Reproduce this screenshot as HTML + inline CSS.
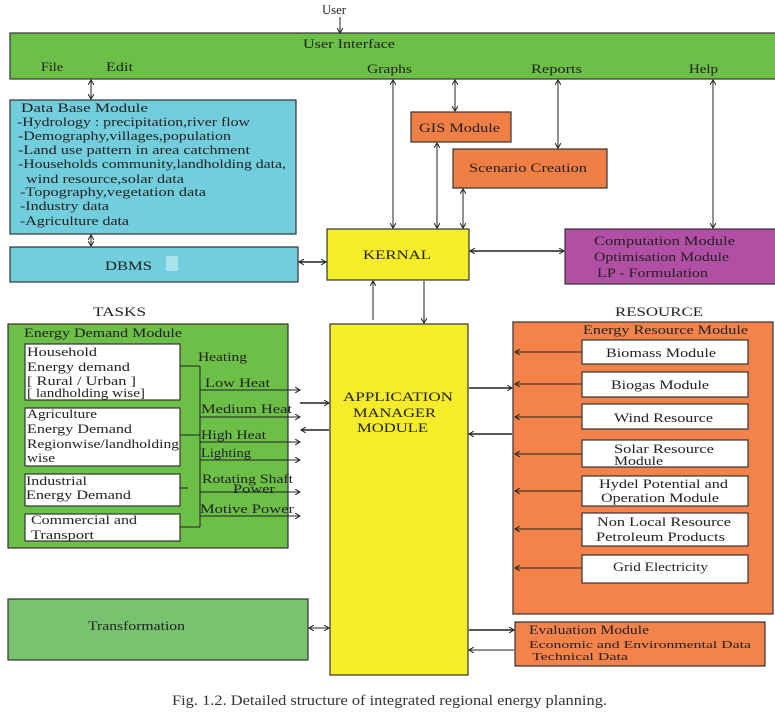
<!DOCTYPE html>
<html><head><meta charset="utf-8"><style>
html,body{margin:0;padding:0;background:#fff;}
svg{display:block;}
text{font-family:"Liberation Serif",serif;fill:#222;}
</style></head><body>
<svg width="775" height="720" viewBox="0 0 775 720" xmlns="http://www.w3.org/2000/svg">
<defs>
<marker id="a" markerWidth="6" markerHeight="6" refX="5" refY="3" orient="auto-start-reverse" markerUnits="userSpaceOnUse"><path d="M0,0 L5,3 L0,6" fill="none" stroke="#222" stroke-width="1"/></marker>
</defs>
<g stroke="#333" stroke-width="1.2">
<rect x="10" y="33" width="775" height="46" fill="#6cbf47"/>
<rect x="10" y="100" width="286" height="134" fill="#72cddd"/>
<rect x="10" y="247" width="288" height="35" fill="#72cddd"/>
<rect x="411" y="112" width="100" height="30" fill="#f07f45"/>
<rect x="453" y="149" width="154" height="39" fill="#f07f45"/>
<rect x="327" y="229" width="142" height="51" fill="#f5ec2a"/>
<rect x="565" y="229" width="215" height="55" fill="#b04fa3"/>
<rect x="8" y="324" width="280" height="224" fill="#6cbf47"/>
<rect x="25" y="344" width="155" height="56" fill="#fff"/>
<rect x="25" y="408" width="155" height="58" fill="#fff"/>
<rect x="25" y="474" width="155" height="32" fill="#fff"/>
<rect x="25" y="514" width="155" height="27" fill="#fff"/>
<rect x="330" y="324" width="138" height="351" fill="#f5ec2a"/>
<rect x="513" y="322" width="260" height="292" fill="#f4834b"/>
<rect x="582" y="340" width="166" height="24" fill="#fff"/>
<rect x="582" y="372" width="166" height="25" fill="#fff"/>
<rect x="582" y="404" width="166" height="25" fill="#fff"/>
<rect x="582" y="440" width="166" height="27" fill="#fff"/>
<rect x="582" y="476" width="166" height="30" fill="#fff"/>
<rect x="582" y="513" width="166" height="33" fill="#fff"/>
<rect x="582" y="555" width="166" height="28" fill="#fff"/>
<rect x="8" y="599" width="300" height="61" fill="#77c36f"/>
<rect x="515" y="622" width="250" height="44" fill="#f4834b"/>
</g>
<rect x="166" y="256" width="12" height="15" fill="#a8e2ec"/>
<g stroke="#222" stroke-width="1" fill="none">
<line x1="340" y1="17" x2="340" y2="33" marker-end="url(#a)"/>
<line x1="91" y1="80" x2="91" y2="99" marker-start="url(#a)" marker-end="url(#a)"/>
<line x1="91" y1="235" x2="91" y2="246" marker-start="url(#a)" marker-end="url(#a)"/>
<line x1="393" y1="80" x2="393" y2="228" marker-start="url(#a)" marker-end="url(#a)"/>
<line x1="455" y1="80" x2="455" y2="111" marker-start="url(#a)" marker-end="url(#a)"/>
<line x1="558" y1="80" x2="558" y2="148" marker-start="url(#a)" marker-end="url(#a)"/>
<line x1="713" y1="80" x2="713" y2="228" marker-start="url(#a)" marker-end="url(#a)"/>
<line x1="437" y1="143" x2="437" y2="228" marker-start="url(#a)" marker-end="url(#a)"/>
<line x1="463" y1="189" x2="463" y2="228" marker-start="url(#a)" marker-end="url(#a)"/>
<line x1="299" y1="262" x2="326" y2="262" marker-start="url(#a)" marker-end="url(#a)" stroke-width="1.5"/>
<line x1="470" y1="251" x2="564" y2="251" marker-start="url(#a)" marker-end="url(#a)" stroke-width="1.5"/>
<line x1="373" y1="320" x2="373" y2="281" marker-end="url(#a)"/>
<line x1="424" y1="281" x2="424" y2="323" marker-end="url(#a)"/>
<path d="M180,366 H200 M180,435 H200 M180,488 H188 M180,527 H200 M200,366 V527"/>
<line x1="200" y1="390" x2="300" y2="390" marker-end="url(#a)"/>
<line x1="200" y1="417" x2="300" y2="417" marker-end="url(#a)"/>
<line x1="200" y1="442" x2="300" y2="442" marker-end="url(#a)"/>
<line x1="200" y1="460" x2="300" y2="460" marker-end="url(#a)"/>
<line x1="200" y1="492" x2="300" y2="492" marker-end="url(#a)"/>
<line x1="200" y1="516" x2="300" y2="516" marker-end="url(#a)"/>
<line x1="300" y1="403" x2="329" y2="403" marker-end="url(#a)" stroke-width="1.5"/>
<line x1="329" y1="430" x2="301" y2="430" marker-end="url(#a)" stroke-width="1.5"/>
<line x1="469" y1="388" x2="512" y2="388" marker-end="url(#a)" stroke-width="1.5"/>
<line x1="512" y1="434" x2="469" y2="434" marker-end="url(#a)" stroke-width="1.5"/>
<line x1="582" y1="352" x2="515" y2="352" marker-end="url(#a)"/>
<line x1="582" y1="384" x2="515" y2="384" marker-end="url(#a)"/>
<line x1="582" y1="417" x2="515" y2="417" marker-end="url(#a)"/>
<line x1="582" y1="454" x2="515" y2="454" marker-end="url(#a)"/>
<line x1="582" y1="491" x2="515" y2="491" marker-end="url(#a)"/>
<line x1="582" y1="529" x2="515" y2="529" marker-end="url(#a)"/>
<line x1="582" y1="568" x2="515" y2="568" marker-end="url(#a)"/>
<line x1="309" y1="628" x2="329" y2="628" marker-start="url(#a)" marker-end="url(#a)"/>
<line x1="469" y1="630" x2="514" y2="630" marker-end="url(#a)" stroke-width="1.5"/>
<line x1="514" y1="650" x2="469" y2="650" marker-end="url(#a)"/>
</g>
<g font-size="12.5">
<text x="322" y="14" textLength="24" lengthAdjust="spacingAndGlyphs">User</text>
<text x="303" y="48" textLength="92" lengthAdjust="spacingAndGlyphs">User Interface</text>
<text x="41" y="71" textLength="22" lengthAdjust="spacingAndGlyphs">File</text>
<text x="106" y="71" textLength="27" lengthAdjust="spacingAndGlyphs">Edit</text>
<text x="367" y="73" textLength="45" lengthAdjust="spacingAndGlyphs">Graphs</text>
<text x="531" y="73" textLength="51" lengthAdjust="spacingAndGlyphs">Reports</text>
<text x="689" y="73" textLength="29" lengthAdjust="spacingAndGlyphs">Help</text>
<text x="21" y="112" textLength="127" lengthAdjust="spacingAndGlyphs">Data  Base Module</text>
<text x="17" y="126" textLength="233" lengthAdjust="spacingAndGlyphs">-Hydrology : precipitation,river flow</text>
<text x="18" y="140" textLength="213" lengthAdjust="spacingAndGlyphs">-Demography,villages,population</text>
<text x="18" y="154" textLength="232" lengthAdjust="spacingAndGlyphs">-Land use pattern in area catchment</text>
<text x="18" y="168" textLength="268" lengthAdjust="spacingAndGlyphs">-Households community,landholding data,</text>
<text x="26" y="183" textLength="158" lengthAdjust="spacingAndGlyphs">wind resource,solar data</text>
<text x="20" y="196" textLength="186" lengthAdjust="spacingAndGlyphs">-Topography,vegetation data</text>
<text x="20" y="210" textLength="89" lengthAdjust="spacingAndGlyphs">-Industry data</text>
<text x="20" y="225" textLength="109" lengthAdjust="spacingAndGlyphs">-Agriculture data</text>
<text x="105" y="270" textLength="47" lengthAdjust="spacingAndGlyphs">DBMS</text>
<text x="419" y="132" textLength="81" lengthAdjust="spacingAndGlyphs">GIS Module</text>
<text x="469" y="172" textLength="118" lengthAdjust="spacingAndGlyphs">Scenario Creation</text>
<text x="363" y="259" textLength="68" lengthAdjust="spacingAndGlyphs">KERNAL</text>
<text x="594" y="245" textLength="141" lengthAdjust="spacingAndGlyphs">Computation  Module</text>
<text x="594" y="261" textLength="135" lengthAdjust="spacingAndGlyphs">Optimisation Module</text>
<text x="597" y="277" textLength="111" lengthAdjust="spacingAndGlyphs">LP - Formulation</text>
<text x="93" y="316" textLength="53" lengthAdjust="spacingAndGlyphs">TASKS</text>
<text x="615" y="316" textLength="88" lengthAdjust="spacingAndGlyphs">RESOURCE</text>
<text x="24" y="337" textLength="158" lengthAdjust="spacingAndGlyphs">Energy Demand Module</text>
<text x="27" y="356" textLength="70" lengthAdjust="spacingAndGlyphs">Household</text>
<text x="27" y="371" textLength="103" lengthAdjust="spacingAndGlyphs">Energy demand</text>
<text x="27" y="385" textLength="109" lengthAdjust="spacingAndGlyphs">[ Rural / Urban ]</text>
<text x="27" y="397" textLength="118" lengthAdjust="spacingAndGlyphs">[ landholding wise]</text>
<text x="27" y="418" textLength="70" lengthAdjust="spacingAndGlyphs">Agriculture</text>
<text x="27" y="433" textLength="105" lengthAdjust="spacingAndGlyphs">Energy Demand</text>
<text x="27" y="448" textLength="152" lengthAdjust="spacingAndGlyphs">Regionwise/landholding</text>
<text x="27" y="462" textLength="28" lengthAdjust="spacingAndGlyphs">wise</text>
<text x="26" y="485" textLength="61" lengthAdjust="spacingAndGlyphs">Industrial</text>
<text x="26" y="499" textLength="105" lengthAdjust="spacingAndGlyphs">Energy Demand</text>
<text x="31" y="524" textLength="106" lengthAdjust="spacingAndGlyphs">Commercial and</text>
<text x="31" y="539" textLength="63" lengthAdjust="spacingAndGlyphs">Transport</text>
<text x="198" y="361" textLength="49" lengthAdjust="spacingAndGlyphs">Heating</text>
<text x="205" y="387" textLength="65" lengthAdjust="spacingAndGlyphs">Low Heat</text>
<text x="201" y="413" textLength="91" lengthAdjust="spacingAndGlyphs">Medium Heat</text>
<text x="201" y="439" textLength="65" lengthAdjust="spacingAndGlyphs">High Heat</text>
<text x="201" y="457" textLength="50" lengthAdjust="spacingAndGlyphs">Lighting</text>
<text x="202" y="483" textLength="91" lengthAdjust="spacingAndGlyphs">Rotating Shaft</text>
<text x="233" y="493" textLength="42" lengthAdjust="spacingAndGlyphs">Power</text>
<text x="200" y="513" textLength="94" lengthAdjust="spacingAndGlyphs">Motive Power</text>
<text x="343" y="401" textLength="110" lengthAdjust="spacingAndGlyphs">APPLICATION</text>
<text x="353" y="417" textLength="83" lengthAdjust="spacingAndGlyphs">MANAGER</text>
<text x="357" y="432" textLength="71" lengthAdjust="spacingAndGlyphs">MODULE</text>
<text x="583" y="334" textLength="165" lengthAdjust="spacingAndGlyphs">Energy Resource Module</text>
<text x="606" y="357" textLength="110" lengthAdjust="spacingAndGlyphs">Biomass Module</text>
<text x="611" y="389" textLength="98" lengthAdjust="spacingAndGlyphs">Biogas Module</text>
<text x="614" y="422" textLength="99" lengthAdjust="spacingAndGlyphs">Wind Resource</text>
<text x="614" y="453" textLength="100" lengthAdjust="spacingAndGlyphs">Solar Resource</text>
<text x="614" y="465" textLength="49" lengthAdjust="spacingAndGlyphs">Module</text>
<text x="599" y="488" textLength="129" lengthAdjust="spacingAndGlyphs">Hydel Potential and</text>
<text x="601" y="502" textLength="118" lengthAdjust="spacingAndGlyphs">Operation Module</text>
<text x="597" y="526" textLength="134" lengthAdjust="spacingAndGlyphs">Non Local Resource</text>
<text x="596" y="541" textLength="129" lengthAdjust="spacingAndGlyphs">Petroleum Products</text>
<text x="613" y="571" textLength="95" lengthAdjust="spacingAndGlyphs">Grid Electricity</text>
<text x="88" y="630" textLength="97" lengthAdjust="spacingAndGlyphs">Transformation</text>
<text x="529" y="634" textLength="120" lengthAdjust="spacingAndGlyphs">Evaluation Module</text>
<text x="529" y="648" font-size="11" textLength="222" lengthAdjust="spacingAndGlyphs">Economic and Environmental Data</text>
<text x="532" y="660" font-size="11" textLength="96" lengthAdjust="spacingAndGlyphs">Technical Data</text>
<text x="172" y="705" font-size="15" style="fill:#333" textLength="435" lengthAdjust="spacingAndGlyphs">Fig. 1.2.  Detailed structure of integrated regional energy planning.</text>
</g>
</svg>
</body></html>
